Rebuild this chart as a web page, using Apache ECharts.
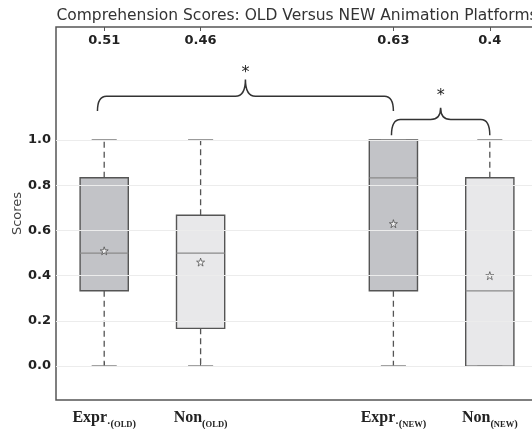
<!DOCTYPE html>
<html><head><meta charset="utf-8">
<script src="https://cdn.jsdelivr.net/npm/echarts@6/dist/echarts.min.js"></script>
<style>html,body{margin:0;padding:0;background:#fff}#c{width:532px;height:429px}</style>
</head><body><div id="c"></div>
<script>
// ---- data ----
const mainLabels = ['Expr', 'Non', '', 'Expr', 'Non'];
const subLabels = ['\u00b7(OLD)', '(OLD)', '', '\u00b7(NEW)', '(NEW)'];
const mins    = [0,     0,     null, 0,     0];
const q1s     = [0.333, 0.167, null, 0.333, 0];
const medians = [0.5,   0.5,   null, 0.833, 0.333];
const q3s     = [0.833, 0.667, null, 1.0,   0.833];
const maxs    = [1.0,   1.0,   null, 1.0,   1.0];
const means   = [0.51,  0.46,  null, 0.63,  0.40];
const meanLabels = ['0.51', '0.46', '', '0.63', '0.4'];
const yTicks = [0, 0.2, 0.4, 0.6, 0.8, 1.0];
// significance braces (x in box positions 1..5, y in score units)
const braceFrom  = [0.93, 3.98];
const braceTo    = [4.0, 5.0];
const braceEnd   = [1.128, 1.021];
const braceLevel = [1.194, 1.091];
const braceTip   = [1.268, 1.143];
const braceMarkY = [1.30, 1.20];
const braceMarks = ['*', '*'];
const titleText = 'Comprehension Scores: OLD Versus NEW Animation Platforms';
const yName = 'Scores';

// ---- styles ----
const exprFill = '#c2c3c7', nonFill = '#e8e8ea';
const edge = '#555555';
const sans = 'DejaVu Sans';
const serif = 'Liberation Serif';

const categories = mainLabels.map((m, i) => m + subLabels[i]);
const boxData = [];
mins.forEach((v, i) => { if (v !== null) boxData.push([i, mins[i], q1s[i], medians[i], q3s[i], maxs[i]]); });
const meanData = [];
means.forEach((v, i) => { if (v !== null) meanData.push([i, v]); });
const braceData = braceFrom.map((f, i) => [f, braceTo[i], braceEnd[i], braceLevel[i], braceTip[i], braceMarkY[i]]);

const starPath = 'path://M0,-1L0.225,-0.309L0.951,-0.309L0.363,0.118L0.588,0.809L0,0.382L-0.588,0.809L-0.363,0.118L-0.951,-0.309L-0.225,-0.309Z';

const chart = echarts.init(document.getElementById('c'), null, {renderer: 'canvas'});

const subRich = (s) => '{s|' + s.replace(/([A-Z]+)/, '}{c|$1}{s|') + '}';

const option = {
  animation: false,
  backgroundColor: '#fff',
  grid: {left: 56, right: -6, top: 27, bottom: 29, show: true, borderColor: edge, borderWidth: 1.5,
    containLabel: false, outerBoundsMode: 'none'},
  xAxis: [
    {
      type: 'category', data: categories, position: 'bottom', boundaryGap: true,
      axisLine: {show: false},
      axisTick: {show: true, inside: true, length: 4, alignWithLabel: true,
        interval: (i) => mainLabels[i] !== '', lineStyle: {color: edge, width: 1}},
      axisLabel: {
        interval: 0, margin: 10,
        formatter: (v, i) => mainLabels[i] ? '{m|' + mainLabels[i] + '}' + subRich(subLabels[i]) : '',
        rich: {
          m: {fontFamily: serif, fontWeight: 'bold', fontSize: 16, color: '#222', verticalAlign: 'bottom', padding: [0, 0, 4, 0]},
          s: {fontFamily: serif, fontWeight: 'bold', fontSize: 10.5, color: '#222', verticalAlign: 'bottom'},
          c: {fontFamily: serif, fontWeight: 'bold', fontSize: 8.5, color: '#222', verticalAlign: 'bottom', padding: [0, 0, 1, 0]}
        }
      },
      splitLine: {show: false}
    },
    {
      type: 'category', data: meanLabels, position: 'top', boundaryGap: true,
      axisLine: {show: false},
      axisTick: {show: true, inside: true, length: 4, alignWithLabel: true,
        interval: (i) => meanLabels[i] !== '', lineStyle: {color: edge, width: 1}},
      axisLabel: {interval: 0, inside: true, margin: 7, fontFamily: sans, fontWeight: 'bold', fontSize: 13, color: '#222'},
      splitLine: {show: false}
    },
    {type: 'value', min: 0.5, max: 5.5, show: false, splitLine: {show: false}}
  ],
  yAxis: {
    type: 'value', min: -0.15, max: 1.5,
    axisLine: {show: false}, axisTick: {show: false}, splitLine: {show: false},
    axisLabel: {customValues: yTicks, formatter: (v) => v.toFixed(1), margin: 5,
      fontFamily: sans, fontWeight: 'bold', fontSize: 13, color: '#222'},
    name: yName, nameLocation: 'middle', nameGap: 32, nameMoveOverlap: false,
    nameTextStyle: {fontFamily: sans, fontSize: 13, color: '#444'}
  },
  series: [
    {
      type: 'line', data: [], z: 1, silent: true,
      markLine: {silent: true, symbol: ['none', 'none'], label: {show: false},
        lineStyle: {color: '#ececec', width: 1, type: 'solid'},
        data: yTicks.map(v => ({yAxis: v}))}
    },
    {
      type: 'custom', xAxisIndex: 0, yAxisIndex: 0, z: 2, silent: true,
      data: boxData, encode: {x: 0, y: [1, 2, 3, 4, 5]},
      renderItem: (params, api) => {
        const x = api.value(0);
        const band = api.size([1, 0])[0];
        const bw = band * 0.5, cw = band * 0.26;
        const cx = api.coord([x, 0])[0];
        const y = (k) => api.coord([x, api.value(k)])[1];
        const yMin = y(1), yQ1 = y(2), yMed = y(3), yQ3 = y(4), yMax = y(5);
        const fill = mainLabels[x] === 'Expr' ? exprFill : nonFill;
        const dash = {stroke: edge, lineWidth: 1.3, lineDash: [6, 4]};
        return {type: 'group', children: [
          {type: 'line', shape: {x1: cx, y1: yQ1, x2: cx, y2: yMin}, style: dash},
          {type: 'line', shape: {x1: cx, y1: yQ3, x2: cx, y2: yMax}, style: dash},
          {type: 'rect', shape: {x: cx - bw / 2, y: yQ3, width: bw, height: yQ1 - yQ3}, style: {fill: fill, stroke: edge, lineWidth: 1.4}},
          {type: 'line', shape: {x1: cx - bw / 2, y1: yMed, x2: cx + bw / 2, y2: yMed}, style: {stroke: '#8a8a8a', lineWidth: 1.3}},
          {type: 'line', shape: {x1: cx - cw / 2, y1: yMin, x2: cx + cw / 2, y2: yMin}, style: {stroke: '#8c8c8c', lineWidth: 1.8}},
          {type: 'line', shape: {x1: cx - cw / 2, y1: yMax, x2: cx + cw / 2, y2: yMax}, style: {stroke: '#8c8c8c', lineWidth: 1.8}}
        ]};
      }
    },
    {
      type: 'scatter', xAxisIndex: 0, yAxisIndex: 0, z: 3, silent: true,
      data: meanData, symbol: starPath, symbolSize: [8, 8],
      itemStyle: {color: '#ffffff', borderColor: '#444', borderWidth: 0.9}
    },
    {
      type: 'custom', xAxisIndex: 2, yAxisIndex: 0, z: 4, silent: true,
      data: braceData, encode: {x: [0, 1], y: [2, 3, 4, 5]},
      renderItem: (params, api) => {
        const a = api.value(0), b = api.value(1), m = (a + b) / 2;
        const x1 = api.coord([a, 0])[0], x2 = api.coord([b, 0])[0], xc = api.coord([m, 0])[0];
        const yE = api.coord([a, api.value(2)])[1];
        const yL = api.coord([a, api.value(3)])[1];
        const yT = api.coord([a, api.value(4)])[1];
        const yM = api.coord([a, api.value(5)])[1];
        const r = 9, c = 10;
        const d = 'M' + x1 + ',' + yE + ' Q' + x1 + ',' + yL + ' ' + (x1 + r) + ',' + yL +
          ' L' + (xc - c) + ',' + yL + ' Q' + xc + ',' + yL + ' ' + xc + ',' + yT +
          ' Q' + xc + ',' + yL + ' ' + (xc + c) + ',' + yL +
          ' L' + (x2 - r) + ',' + yL + ' Q' + x2 + ',' + yL + ' ' + x2 + ',' + yE;
        return {type: 'group', children: [
          {type: 'path', shape: {pathData: d}, style: {fill: 'none', stroke: '#333', lineWidth: 1.5}},
          {type: 'text', x: xc, y: yM + 1, style: {text: braceMarks[params.dataIndex], align: 'center', verticalAlign: 'middle',
            font: '16px "DejaVu Sans"', fill: '#222'}}
        ]};
      }
    }
  ]
};
chart.setOption(option);
const xMid = chart.convertToPixel({xAxisIndex: 2}, (option.xAxis[2].min + option.xAxis[2].max) / 2);
chart.setOption({graphic: [{type: 'text', x: xMid, y: 8, silent: true,
  style: {text: titleText, align: 'center', verticalAlign: 'top', font: '15.5px "DejaVu Sans"', fill: '#333'}}]});
</script>
</body></html>
